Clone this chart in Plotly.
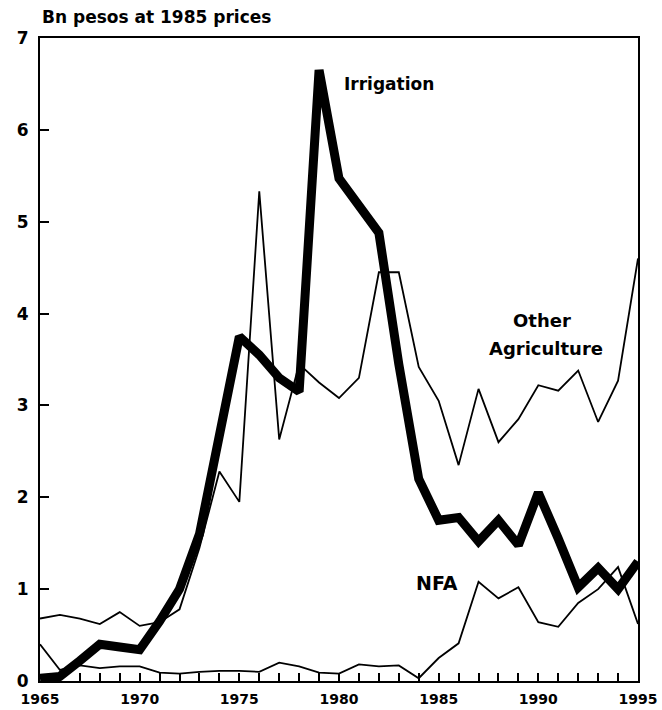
import plotly.graph_objects as go

# Values (bn pesos at 1985 prices)
years = list(range(1965, 1996))

irrigation = [0.03, 0.05, 0.22, 0.40, 0.37, 0.34, 0.65, 1.00, 1.60, 2.70,
              3.75, 3.55, 3.30, 3.15, 6.65, 5.47, 5.18, 4.88, 3.45, 2.20,
              1.75, 1.78, 1.52, 1.75, 1.48, 2.05, 1.55, 1.02, 1.23, 1.00, 1.30]

other_agriculture = [0.68, 0.72, 0.68, 0.62, 0.75, 0.60, 0.64, 0.78, 1.45, 2.28,
                     1.95, 5.33, 2.63, 3.45, 3.25, 3.08, 3.30, 4.45, 4.45, 3.42,
                     3.05, 2.35, 3.18, 2.60, 2.85, 3.22, 3.16, 3.38, 2.82, 3.27, 4.60]

nfa = [0.40, 0.12, 0.17, 0.14, 0.16, 0.16, 0.09, 0.08, 0.10, 0.11,
       0.11, 0.10, 0.20, 0.16, 0.09, 0.08, 0.18, 0.16, 0.17, 0.03,
       0.25, 0.41, 1.08, 0.90, 1.02, 0.64, 0.59, 0.85, 1.00, 1.24, 0.62]

x_ticktext = [str(y) if y % 5 == 0 else "" for y in years]
y_ticks = [0, 1, 2, 3, 4, 5, 6, 7]

FONT = "DejaVu Sans"

fig = go.Figure()

# thin lines first, thick irrigation on top
fig.add_trace(go.Scatter(x=years, y=other_agriculture, mode="lines",
                         line=dict(color="black", width=1.8), name="Other Agriculture"))
fig.add_trace(go.Scatter(x=years, y=nfa, mode="lines",
                         line=dict(color="black", width=1.8), name="NFA"))
fig.add_trace(go.Scatter(x=years, y=irrigation, mode="lines",
                         line=dict(color="black", width=9), name="Irrigation"))

# series labels
fig.add_annotation(text="Irrigation", x=1982.5, y=6.5, showarrow=False,
                   font=dict(family=FONT, size=17, color="black", weight="bold"))
fig.add_annotation(text="Other", x=1990.2, y=3.93, showarrow=False,
                   font=dict(family=FONT, size=18, color="black", weight="bold"))
fig.add_annotation(text="Agriculture", x=1990.4, y=3.62, showarrow=False,
                   font=dict(family=FONT, size=18, color="black", weight="bold"))
fig.add_annotation(text="NFA", x=1984.9, y=1.07, showarrow=False,
                   font=dict(family=FONT, size=19, color="black", weight="bold"))

# unit label above the frame
fig.add_annotation(text="Bn pesos at 1985 prices", xref="paper", yref="paper",
                   x=0, y=1, xanchor="left", yanchor="bottom", yshift=9,
                   showarrow=False,
                   font=dict(family=FONT, size=17, color="black", weight="bold"))

fig.update_xaxes(
    range=[1965, 1995], automargin=False,
    tickmode="array", tickvals=years, ticktext=x_ticktext,
    ticks="inside", ticklen=8, tickwidth=2, tickcolor="black",
    ticklabelstandoff=4,
    tickfont=dict(family=FONT, size=14, color="black", weight="bold"),
    showgrid=False, zeroline=False,
    showline=True, linecolor="black", linewidth=2, mirror=True,
)
fig.update_yaxes(
    range=[0, 7], automargin=False,
    tickmode="array", tickvals=y_ticks,
    ticks="inside", ticklen=9, tickwidth=2, tickcolor="black",
    ticklabelstandoff=6,
    tickfont=dict(family=FONT, size=17, color="black", weight="bold"),
    showgrid=False, zeroline=False,
    showline=True, linecolor="black", linewidth=2, mirror=True,
)

fig.update_layout(
    width=662,
    height=710,
    showlegend=False,
    paper_bgcolor="white",
    plot_bgcolor="white",
    margin=dict(l=40, r=24, t=38, b=29),
)

# drop the page's default body margin so the figure fills the window exactly
fig.write_html("out.html", config={"displayModeBar": False},
               post_script="document.body.style.margin = '0';")
